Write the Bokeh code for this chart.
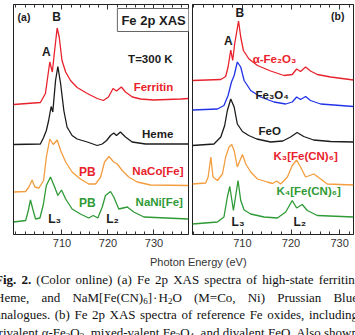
from bokeh.plotting import figure
from bokeh.models import Range1d, FixedTicker, LinearAxis, Label, Div, CustomLabelingPolicy, BoxAnnotation
from bokeh.layouts import row, column
from bokeh.embed import file_html
from bokeh.resources import INLINE
from math import pi

# ---------------- data: Fe 2p XAS spectra (photon energy in eV, intensity offset in arb. units)
# panel (a)
ferritin_e = [699.5, 705.3, 706.4, 707.0, 707.35, 707.9, 708.4, 708.95, 709.4, 710.0, 710.8, 711.85,
              713.3, 715.5, 717.65, 719.0, 720.1, 721.1, 721.85, 722.9, 723.8, 725.3, 727.1, 729.9, 735.8, 737.5]
ferritin_i = [130, 132, 141, 161, 172.5, 162.5, 184, 206.5, 197.5, 174, 162.5, 154,
              147, 141, 136, 134, 137.5, 146, 143.5, 147.5, 142.5, 137.5, 135.5, 134.5, 135.5, 136]

heme_e = [699.5, 705.3, 706.0, 706.6, 707.1, 707.35, 707.65, 708.0, 708.6, 709.1, 709.7, 710.4, 711.1,
          712.2, 713.3, 715.5, 717.65, 718.75, 719.7, 720.55, 721.25, 721.85, 722.7, 723.8, 725.25, 728.15, 737.5]
heme_i = [90, 90.5, 97, 104, 114, 120.5, 128, 122.5, 154, 168, 151, 124, 107.5,
          99, 95.5, 92.5, 89, 90.5, 94, 99, 101.5, 99, 102.5, 97.5, 92.5, 90.5, 90.5]

naco_e = [699.5, 702.1, 702.8, 703.5, 704.1, 705.0, 706.0, 706.6, 707.35, 708.1, 708.95, 709.7, 710.8,
          712.2, 714.0, 715.8, 717.3, 718.4, 719.25, 720.2, 721.25, 722.0, 723.1, 724.5, 726.35, 729.25, 737.5]
naco_i = [42.5, 43, 47.5, 54.5, 47.5, 46.5, 54, 77.5, 95.5, 90, 94.5, 84, 72.5,
          62.5, 55.5, 50.5, 50.5, 57.5, 72.5, 78, 72.5, 70.5, 64, 57.5, 52.5, 49.5, 49]

nani_e = [699.5, 702.1, 702.6, 703.15, 703.65, 704.25, 705.2, 705.9, 706.6, 707.5, 708.4, 709.1, 709.9,
          710.8, 712.2, 714.0, 715.8, 716.8, 717.8, 718.75, 719.45, 720.55, 721.25, 722.35, 724.2, 725.6,
          727.8, 737.5]
nani_i = [12.5, 14, 22.5, 34.5, 25.5, 15.5, 16.5, 29, 49, 57.5, 47.5, 39, 44.5,
          35.5, 25.5, 20.5, 16.5, 19, 16.5, 27.5, 39, 43, 37.5, 25.5, 27.5, 22.5,
          17.5, 15.5]

# panel (b)
fe2o3_e = [699.7, 705.55, 706.55, 707.05, 707.6, 708.0, 708.4, 709.2, 709.65, 710.2, 711.35, 713.1,
           715.8, 718.55, 720.25, 721.15, 721.95, 723.0, 724.0, 725.4, 728.15, 732.85]
fe2o3_i = [154, 155, 158, 167.5, 184.5, 174, 190.5, 213.5, 197.5, 184, 175.5, 169,
           163.5, 159, 160, 165.5, 163, 167.5, 163.5, 160, 157.5, 154.5]

fe3o4_e = [699.7, 704.85, 706.2, 707.05, 707.75, 708.3, 708.95, 709.65, 710.35, 711.7, 713.75, 716.5,
           718.9, 720.25, 721.15, 721.95, 723.0, 724.0, 726.1, 732.85]
fe3o4_i = [124.5, 125.5, 129, 139, 152.5, 159, 172.5, 167.5, 154, 144, 137.5, 132.5,
           130.5, 132.5, 137.5, 135, 138, 134, 130.5, 128]

feo_e = [699.7, 704.15, 705.55, 706.35, 706.9, 707.6, 708.3, 708.95, 710.0, 711.3, 712.95, 715.8,
         718.3, 719.9, 721.25, 722.6, 724.65, 728.15, 732.85]
feo_i = [89, 90.5, 97.5, 109, 124, 135.5, 127.5, 110.5, 103, 99, 95.5, 92.5,
         93.5, 97.5, 102, 98, 94.5, 93, 92.5]

k3_e = [699.7, 702.45, 702.95, 703.5, 703.95, 704.85, 705.9, 706.55, 707.25, 707.8, 708.3, 708.95,
        710.0, 710.7, 711.7, 713.1, 715.1, 716.2, 717.05, 717.85, 719.25, 720.25, 721.15, 721.95,
        723.0, 724.7, 726.1, 727.45, 732.85]
k3_i = [50.5, 51.5, 57.5, 77.5, 57.5, 54, 60.5, 77.5, 87.5, 90, 84, 67.5,
        80, 70.5, 62.5, 55.5, 52.5, 51, 53.5, 50.5, 57.5, 69, 74.5, 67.5,
        57.5, 60.5, 55.5, 50.5, 49.5]

k4_e = [699.7, 704.85, 706.2, 706.9, 707.4, 708.15, 709.1, 709.65, 710.35, 711.7, 714.45, 717.2,
        718.9, 720.25, 721.15, 722.3, 723.35, 725.4, 732.85]
k4_i = [10.5, 12.5, 17.5, 37.5, 48, 24, 54, 34, 24.5, 20.5, 17.5, 16.5,
        22.5, 34, 26.5, 30, 24, 19, 17.5]

major_ticks = [710, 720, 730]

RED = "#e8222c"
ORANGE = "#f49d3f"
GREEN = "#2f9a36"
BLUE = "#2233e8"
BLACK = "#1c1c1c"
FRAME = "#222222"
SANS = "Liberation Sans"
LW = 1.3
Y_TOP = 230


def style_axes(p, minor):
    ticker = FixedTicker(ticks=major_ticks, minor_ticks=minor)
    below = LinearAxis(ticker=ticker)
    above = LinearAxis(ticker=ticker)
    for ax in (below, above):
        ax.axis_line_color = FRAME
        ax.major_tick_in = 5
        ax.major_tick_out = 0
        ax.minor_tick_in = 3
        ax.minor_tick_out = 0
        ax.major_tick_line_color = "#333333"
        ax.minor_tick_line_color = "#333333"
    below.major_label_text_font = SANS
    below.major_label_text_font_size = "11px"
    below.major_label_text_color = "#333333"
    below.major_label_standoff = 4
    # the top axis only carries tick marks
    above.major_label_policy = CustomLabelingPolicy(code="return []")
    above.major_label_standoff = 0
    p.add_layout(below, "below")
    p.add_layout(above, "above")


def make_fig(width, x0, x1, left, right):
    p = figure(width=width, height=262, x_range=Range1d(x0, x1), y_range=Range1d(0, Y_TOP),
               x_axis_location=None, y_axis_location=None,
               output_backend="svg", toolbar_location=None,
               min_border_left=left, min_border_right=right, min_border_top=14, min_border_bottom=18)
    p.grid.visible = False
    p.outline_line_color = FRAME
    p.outline_line_width = 1
    p.background_fill_color = "white"
    p.border_fill_color = "white"
    # panel frame
    p.add_layout(BoxAnnotation(left=x0, right=x1, bottom=0, top=Y_TOP, fill_alpha=0,
                               line_color=FRAME, line_width=1, level="overlay"))
    return p


def label(p, x, y, text, size="11.5px", color=BLACK, align="center", bold=True, angle=0):
    p.add_layout(Label(x=x, y=y, text=text, text_font=SANS, text_font_size=size,
                       text_font_style="bold" if bold else "normal", text_color=color,
                       text_align=align, text_baseline="middle", angle=angle))


# ---------------- panel (a)
fa = make_fig(190, 699.46, 737.5, 13, 2)
style_axes(fa, list(range(700, 738, 2)))
fa.line(ferritin_e, ferritin_i, color=RED, line_width=LW)
fa.line(heme_e, heme_i, color=BLACK, line_width=LW)
fa.line(naco_e, naco_i, color=ORANGE, line_width=LW)
fa.line(nani_e, nani_i, color=GREEN, line_width=LW)

label(fa, 701.75, 218, "(a)", size="10.5px")
label(fa, 706.6, 183, "A", size="12px")
label(fa, 708.8, 218, "B", size="12px")
label(fa, 729.2, 176, "T=300 K")
label(fa, 734.2, 148, "Ferritin", color=RED, align="right")
label(fa, 734.2, 101, "Heme", align="right")
label(fa, 715.5, 63, "PB", color=RED, size="12px")
label(fa, 725.3, 64, "NaCo[Fe]", color=RED, align="left")
label(fa, 715.5, 32, "PB", color=GREEN, size="12px")
label(fa, 726.0, 33, "NaNi[Fe]", color=GREEN, align="left")
label(fa, 708.4, 16, "L₃", size="12px")
label(fa, 721.0, 16, "L₂", size="12px")
label(fa, 697.93, 115, "Intensity (arb. units)", size="11px", bold=False, angle=pi / 2, color="#333333")

fa.add_layout(Label(x=729.9, y=214.5, text="Fe 2p XAS", text_font=SANS, text_font_size="13px",
                    text_font_style="bold", text_color=BLACK, text_align="center", text_baseline="middle",
                    background_fill_color="white", border_line_color="#666666", border_line_width=1,
                    padding=4, level="overlay"))

# ---------------- panel (b)
fb = make_fig(165, 699.73, 732.85, 2, 2)
style_axes(fb, list(range(700, 734, 2)))
fb.line(fe2o3_e, fe2o3_i, color=RED, line_width=LW)
fb.line(fe3o4_e, fe3o4_i, color=BLUE, line_width=LW)
fb.line(feo_e, feo_i, color=BLACK, line_width=LW)
fb.line(k3_e, k3_i, color=ORANGE, line_width=LW)
fb.line(k4_e, k4_i, color=GREEN, line_width=LW)

label(fb, 729.6, 219, "(b)", size="10.5px")
label(fb, 707.1, 194, "A", size="12px")
label(fb, 709.45, 221.5, "B", size="12px")
label(fb, 712.1, 176, "α-Fe₂O₃", color=RED, align="left")
label(fb, 712.7, 140, "Fe₃O₄", align="left")
label(fb, 713.3, 104, "FeO", align="left")
label(fb, 716.4, 79, "K₃[Fe(CN)₆]", color=RED, align="left")
label(fb, 717.0, 44, "K₄[Fe(CN)₆]", color=GREEN, align="left")
label(fb, 709.1, 13, "L₃", size="12px")
label(fb, 721.8, 13, "L₂", size="12px")

# ---------------- shared x-axis title
xlabel = Div(text='<div style="margin:2px 0 0 150px;font-family:\'Liberation Sans\',sans-serif;'
                  'font-size:11px;line-height:16px;color:#333333;white-space:nowrap">Photon Energy (eV)</div>',
             width=355, height=18, margin=0, styles={"overflow": "hidden"})

# ---------------- caption
SUB = '<sub style="font-size:9px;line-height:0;vertical-align:-2px">{}</sub>'
caption_lines = [
    "<b>Fig. 2.</b> (Color online) (a) Fe 2p XAS spectra of high-state ferritin,",
    "Heme, and NaM[Fe(CN)" + SUB.format(6) + "]&#8202;·&#8202;H" + SUB.format(2)
    + "O (M=Co, Ni) Prussian Blue",
    "analogues. (b) Fe 2p XAS spectra of reference Fe oxides, including",
    "trivalent α-Fe" + SUB.format(2) + "O" + SUB.format(3) + ", mixed-valent Fe" + SUB.format(3)
    + "O" + SUB.format(4) + ", and divalent FeO. Also shown",
]
line_style = ("text-align:justify;text-align-last:justify;white-space:nowrap;height:17.5px;"
              "line-height:17.5px")
html = ('<div style="margin:1px 0 0 -5px;width:363px;font-family:\'Liberation Serif\',serif;'
        'font-size:13px;color:#111111">'
        + "".join('<div style="%s">%s</div>' % (line_style, t) for t in caption_lines)
        + "</div>")
caption = Div(text=html, width=355, height=65, margin=0, styles={"overflow": "hidden"})

# the plots carry 10 px of spare top border, pulled up out of view
panels = row(fa, fb, width=355, styles={"margin-top": "-10px"})
layout = column(panels, xlabel, caption)
open("out.html", "w").write(file_html(layout, INLINE))
